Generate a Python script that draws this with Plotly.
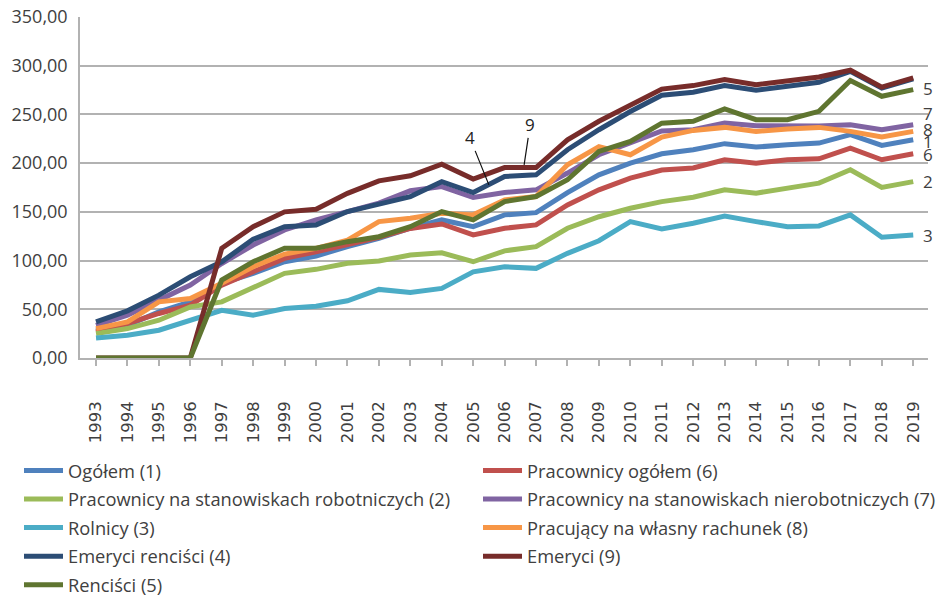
import plotly.graph_objects as go

years = list(range(1993, 2020))

names = {
    1: "Ogółem (1)",
    2: "Pracownicy na stanowiskach robotniczych (2)",
    3: "Rolnicy (3)",
    4: "Emeryci renciści (4)",
    5: "Renciści (5)",
    6: "Pracownicy ogółem (6)",
    7: "Pracownicy na stanowiskach nierobotniczych (7)",
    8: "Pracujący na własny rachunek (8)",
    9: "Emeryci (9)",
}

s1 = [28.5, 33.6, 47.3, 57.6, 76.6, 86.9, 98.8, 104.7, 114.3, 122.9, 133.2, 141.7, 134.8, 146.9, 149.2,
      169.8, 188.0, 200.0, 209.6, 213.8, 220.0, 216.5, 218.9, 220.6, 229.2, 218.2, 224.0]
s6 = [26.8, 35.4, 45.7, 54.2, 74.8, 88.5, 102.3, 109.0, 116.0, 123.9, 133.0, 137.6, 126.3, 133.2, 136.6,
      157.1, 172.6, 184.6, 193.0, 195.0, 203.5, 200.0, 203.5, 204.5, 215.5, 203.5, 209.6]
s2 = [25.0, 30.2, 38.8, 52.5, 57.6, 72.4, 86.9, 91.0, 97.2, 99.5, 105.7, 108.0, 98.8, 110.0, 114.3,
      133.2, 145.0, 153.7, 160.5, 165.0, 172.6, 169.2, 174.3, 179.5, 193.2, 175.0, 181.0]
s7 = [33.6, 44.0, 59.4, 74.8, 97.0, 116.0, 131.4, 141.7, 150.3, 159.0, 171.6, 176.0, 164.7, 169.8, 172.6,
      189.8, 208.6, 220.6, 233.0, 234.3, 241.2, 238.4, 238.4, 238.0, 239.5, 234.3, 239.5]
s3 = [20.6, 23.4, 28.5, 38.8, 49.0, 44.0, 50.8, 53.2, 58.7, 70.4, 67.3, 71.4, 88.5, 93.7, 92.0,
      107.4, 120.4, 140.0, 132.5, 138.3, 145.8, 140.0, 134.8, 135.5, 146.9, 123.9, 126.3]
s8 = [30.2, 37.0, 57.6, 61.0, 76.6, 93.7, 106.7, 112.6, 121.0, 140.0, 143.4, 148.6, 146.9, 162.3, 165.7,
      198.3, 217.0, 208.6, 226.8, 233.6, 236.7, 232.6, 235.0, 236.7, 232.6, 226.8, 232.6]
s4 = [37.0, 48.4, 64.5, 83.4, 98.8, 121.8, 134.8, 136.6, 150.3, 157.5, 165.7, 181.0, 169.8, 186.3, 188.0,
      213.8, 234.3, 253.0, 269.7, 272.7, 279.6, 274.8, 279.0, 283.0, 294.3, 277.0, 286.5]
s9 = [0, 0, 0, 0, 112.6, 134.8, 150.0, 152.7, 169.0, 181.8, 187.0, 199.0, 183.6, 195.5, 195.5,
      224.0, 243.0, 260.0, 276.0, 279.6, 285.8, 280.6, 285.0, 288.5, 295.4, 278.0, 287.5]
s5 = [0, 0, 0, 0, 80.0, 98.8, 112.6, 112.6, 119.4, 124.5, 134.8, 150.3, 141.7, 160.5, 165.7,
      182.9, 212.0, 222.3, 241.0, 242.9, 255.6, 244.6, 244.6, 253.2, 284.8, 268.6, 275.5]

series = {1: s1, 6: s6, 2: s2, 7: s7, 3: s3, 8: s8, 4: s4, 9: s9, 5: s5}
colors = {1: "#4F81BD", 6: "#C0504D", 2: "#9BBB59", 7: "#8064A2", 3: "#4BACC6",
          8: "#F79646", 4: "#2C4D75", 9: "#772C2A", 5: "#5F7530"}
draw_order = [1, 6, 2, 7, 3, 8, 4, 9, 5]

# end labels (number, y value of label)
end_labels = [("5", 276.5), ("7", 250.8), ("8", 234.3), ("1", 222.3), ("6", 208.5), ("2", 181.2), ("3", 126.2)]

# callouts: text, target x, target y, ax, ay
callouts = [("4", 2005.5, 177.7, -19, -47), ("9", 2006.62, 198.3, 6, -40)]

txt = "#404040"
grid = "#B2B2B2"

fig = go.Figure()
for k in draw_order:
    fig.add_trace(go.Scatter(
        x=years, y=series[k], mode="lines", name=names[k],
        line=dict(color=colors[k], width=5),
        legend="legend" if k <= 5 else "legend2",
        legendgroup=f"g{k}",
    ))

for t, yv in end_labels:
    fig.add_annotation(x=1, xref="paper", y=yv, text=t, showarrow=False,
                       xanchor="center", yanchor="middle",
                       font=dict(family="Open Sans", size=17, color=txt))

for t, xv, yv, ax, ay in callouts:
    fig.add_annotation(x=xv, y=yv, text=t, showarrow=True, arrowhead=0, arrowwidth=1.2,
                       arrowcolor="#111111", ax=ax, ay=ay,
                       font=dict(family="Open Sans", size=17, color="#222222"))

legend_common = dict(
    yref="container", xref="container", yanchor="top", xanchor="left",
    orientation="v", traceorder="grouped", tracegroupgap=1.8, itemwidth=39,
    bgcolor="rgba(0,0,0,0)", font=dict(family="Open Sans", size=18.3, color=txt),
)

fig.update_layout(
    width=940, height=597,
    margin=dict(l=80, r=12, t=17, b=239, autoexpand=False),
    paper_bgcolor="white", plot_bgcolor="white",
    separators=", ",
    showlegend=True,
    legend=dict(x=19 / 940, y=1 - 452 / 597, **legend_common),
    legend2=dict(x=478 / 940, y=1 - 452 / 597, **legend_common),
    xaxis=dict(
        range=[1992.49, 2019.47], tickmode="array", tickvals=years,
        ticktext=[str(y) for y in years], tickangle=-90,
        tickfont=dict(family="DejaVu Sans", size=16.5, color=txt),
        showgrid=False, zeroline=False, showline=True, linecolor=grid, linewidth=1.5,
        ticks="outside", ticklen=6, tickcolor=grid, tickwidth=1.5,
        ticklabelstandoff=29,
    ),
    yaxis=dict(
        range=[0, 350], dtick=50, tickformat=".2f",
        tickfont=dict(family="Open Sans", size=18, color=txt),
        showgrid=True, gridcolor=grid, gridwidth=1.5, zeroline=False,
        showline=True, linecolor=grid, linewidth=1.5, ticks="",
        ticklabelstandoff=7,
    ),
)

fig.write_html("out.html", config={"displayModeBar": False},
               post_script="document.body.style.margin='0px';")
